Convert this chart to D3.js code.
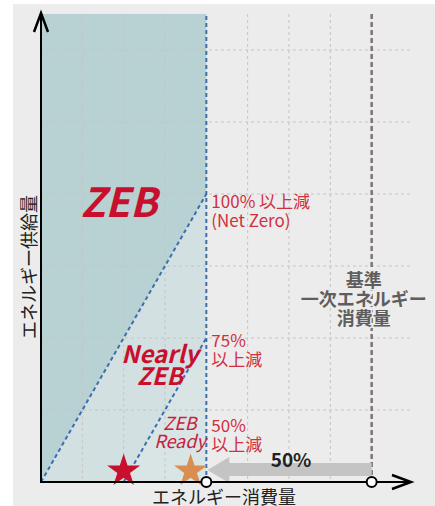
<!DOCTYPE html>
<html>
<head>
<meta charset="utf-8">
<script src="https://cdn.jsdelivr.net/npm/d3@7"></script>
<style>
 body { margin: 0; background: #fff; }
 text { font-family: "Noto Sans CJK JP", "Noto Sans", sans-serif; }
</style>
</head>
<body>
<script>
 var w = 435;
 var h = 506;

 // grid positions (energy units, baseline consumption = 8)
 var xGrid = [1, 2, 3, 5, 6, 7];
 var yGrid = [1, 2, 3, 4, 5, 6];
 var netZero = 4;        // 50% of baseline
 var baseline = 8;
 var yTop = 6.5;

 // boundary lines
 var zebLine = [[0, 0], [4, 4]];
 var nearlyLine = [[2, 0], [4, 2]];

 // zones
 var zebZone = [[0, 0], [4, 4], [4, 6.5], [0, 6.5]];
 var nearlyZone = [[0, 0], [2, 0], [4, 2], [4, 4]];
 var readyZone = [[2, 0], [4, 0], [4, 2]];

 // stars on the consumption axis
 var stars = [{x: 2, c: "#c8102e"}, {x: 3.62, c: "#d98d4e"}];

 var rightLabels = [
   {y: 3.8, lines: ["100% 以上減", "(Net Zero)"]},
   {y: 1.88, lines: ["75%", "以上減"]},
   {y: 0.69, lines: ["50%", "以上減"]}
 ];
 var baseLabel = ["基準", "一次エネルギー", "消費量"];

 var x = d3.scaleLinear().domain([0, 9]).range([41, 413]);
 var y = d3.scaleLinear().domain([0, 6.5]).range([482, 14]);

 var svg = d3.select("body")
         .append("svg")
         .attr("width", w)
         .attr("height", h);

 svg.append("rect")
         .attr("x", 13).attr("y", 4)
         .attr("width", w - 13).attr("height", h - 4)
         .style("fill", "#ececec");

 var poly = d3.line()
         .x(function (d) { return x(d[0]); })
         .y(function (d) { return y(d[1]); });

 svg.append("path").attr("d", poly(zebZone) + "Z").style("fill", "#b8d1d3");
 svg.append("path").attr("d", poly(nearlyZone) + "Z").style("fill", "#d2e0e1");
 svg.append("path").attr("d", poly(readyZone) + "Z").style("fill", "#d9e4e5");

 // grid
 svg.selectAll(".gx")
         .data(xGrid)
         .enter()
         .append("line")
         .attr("x1", function (d) { return x(d); })
         .attr("x2", function (d) { return x(d); })
         .attr("y1", y(yTop))
         .attr("y2", y(0))
         .style("stroke", "#c4c4c4")
         .style("stroke-width", 1)
         .style("stroke-dasharray", "3,3");

 svg.selectAll(".gy")
         .data(yGrid)
         .enter()
         .append("line")
         .attr("x1", x(0))
         .attr("x2", x(9))
         .attr("y1", function (d) { return y(d); })
         .attr("y2", function (d) { return y(d); })
         .style("stroke", "#c4c4c4")
         .style("stroke-width", 1)
         .style("stroke-dasharray", "3,3");

 // baseline consumption
 svg.append("line")
         .attr("x1", x(baseline)).attr("x2", x(baseline))
         .attr("y1", y(yTop)).attr("y2", y(0))
         .style("stroke", "#7d7573")
         .style("stroke-width", 2.5)
         .style("stroke-dasharray", "5,3");

 // blue dashed boundaries
 [zebLine, nearlyLine, [[netZero, 0], [netZero, yTop]]].forEach(function (l) {
     svg.append("path")
             .attr("d", poly(l))
             .style("fill", "none")
             .style("stroke", "#3c6fae")
             .style("stroke-width", 2)
             .style("stroke-dasharray", "4,3");
 });

 // grey 50% arrow
 var ax0 = x(baseline), ax1 = x(netZero) + 1, ah = x(netZero) + 23;
 var arrowPts = [[ax0, 463], [ah, 463], [ah, 457], [ax1, 470], [ah, 483], [ah, 476], [ax0, 476]];
 svg.append("polygon")
         .attr("points", arrowPts.map(function (p) { return p.join(","); }).join(" "))
         .style("fill", "#c4c4c4");

 svg.append("text")
         .attr("x", x(6.05)).attr("y", 467)
         .attr("text-anchor", "middle")
         .style("font-size", "19px")
         .style("font-weight", "bold")
         .style("fill", "#222")
         .text("50%");

 // stars
 svg.selectAll(".star")
         .data(stars)
         .enter()
         .append("path")
         .attr("d", d3.symbol(d3.symbolStar, 340))
         .attr("transform", function (d) { return "translate(" + x(d.x) + "," + (y(0) - 11) + ")"; })
         .style("fill", function (d) { return d.c; });

 // axes
 svg.append("line")
         .attr("x1", x(0)).attr("x2", x(0))
         .attr("y1", y(0) + 1).attr("y2", 13)
         .style("stroke", "#000").style("stroke-width", 2);
 svg.append("line")
         .attr("x1", x(0) - 1).attr("x2", 410)
         .attr("y1", y(0)).attr("y2", y(0))
         .style("stroke", "#000").style("stroke-width", 2);
 svg.append("path")
         .attr("d", "M34,32L41,13L48,32")
         .style("fill", "none").style("stroke", "#000").style("stroke-width", 2.5);
 svg.append("path")
         .attr("d", "M392,475L411,482L392,489")
         .style("fill", "none").style("stroke", "#000").style("stroke-width", 2.5);

 svg.selectAll(".pt")
         .data([netZero, baseline])
         .enter()
         .append("circle")
         .attr("cx", function (d) { return x(d); })
         .attr("cy", y(0))
         .attr("r", 5)
         .style("fill", "#fff")
         .style("stroke", "#000")
         .style("stroke-width", 2);

 // zone names
 svg.append("text")
         .attr("x", 119).attr("y", 217)
         .attr("text-anchor", "middle")
         .style("font-size", "40px").style("font-weight", "bold").style("font-style", "italic")
         .style("fill", "#c8102e")
         .text("ZEB");

 svg.selectAll(".nz")
         .data(["Nearly", "ZEB"])
         .enter()
         .append("text")
         .attr("x", 160)
         .attr("y", function (d, i) { return 363 + i * 22; })
         .attr("text-anchor", "middle")
         .style("font-size", "24px").style("font-weight", "bold").style("font-style", "italic")
         .style("fill", "#c8102e")
         .text(function (d) { return d; });

 svg.selectAll(".zr")
         .data(["ZEB", "Ready"])
         .enter()
         .append("text")
         .attr("x", 180)
         .attr("y", function (d, i) { return 430 + i * 18; })
         .attr("text-anchor", "middle")
         .style("font-size", "18px").style("font-style", "italic")
         .style("fill", "#c8203a")
         .text(function (d) { return d; });

 rightLabels.forEach(function (lab) {
     lab.lines.forEach(function (t, i) {
         svg.append("text")
                 .attr("x", x(netZero) + 5)
                 .attr("y", y(lab.y) + i * 19)
                 .style("font-size", "17px")
                 .style("fill", "#d03040")
                 .text(t);
     });
 });

 svg.selectAll(".bl")
         .data(baseLabel)
         .enter()
         .append("text")
         .attr("x", x(baseline) - 8)
         .attr("y", function (d, i) { return 287 + i * 19; })
         .attr("text-anchor", "middle")
         .style("font-size", "18px").style("font-weight", "bold")
         .style("fill", "#5e5e5e")
         .style("stroke", "#ececec").style("stroke-width", 3)
         .style("paint-order", "stroke")
         .text(function (d) { return d; });

 // axis titles
 svg.append("text")
         .attr("x", 224).attr("y", 504)
         .attr("text-anchor", "middle")
         .style("font-size", "18px")
         .style("fill", "#222")
         .text("エネルギー消費量");

 svg.append("text")
         .attr("transform", "translate(36,267) rotate(-90)")
         .attr("text-anchor", "middle")
         .style("font-size", "18px")
         .style("fill", "#222")
         .text("エネルギー供給量");
</script>
</body>
</html>
